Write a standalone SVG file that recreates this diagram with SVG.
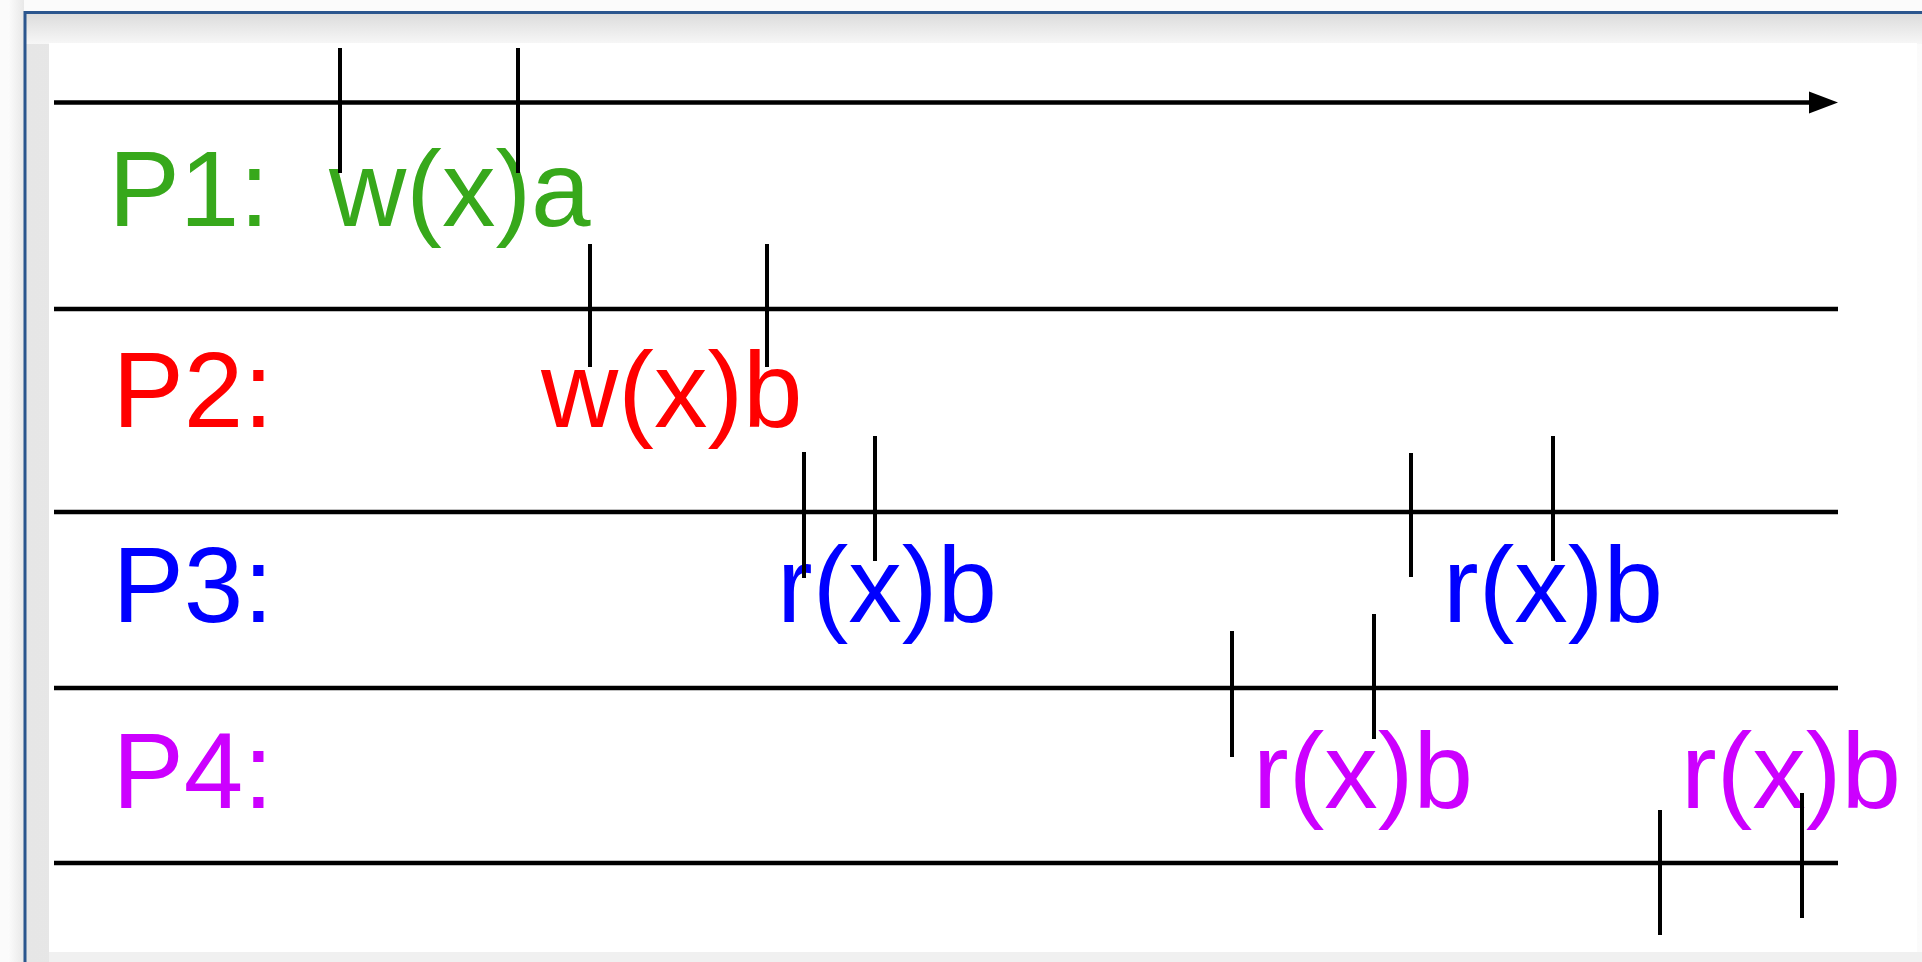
<svg xmlns="http://www.w3.org/2000/svg" width="1922" height="962" viewBox="0 0 1922 962">
  <defs>
    <linearGradient id="band" x1="0" y1="0" x2="0" y2="1">
      <stop offset="0" stop-color="#dcdcdc"/>
      <stop offset="1" stop-color="#f7f7f7"/>
    </linearGradient>
    <linearGradient id="sideband" x1="0" y1="0" x2="1" y2="0">
      <stop offset="0" stop-color="#e6e6e6"/>
      <stop offset="1" stop-color="#fbfbfb"/>
    </linearGradient>
    <linearGradient id="shadow" x1="0" y1="0" x2="1" y2="0">
      <stop offset="0" stop-color="#fcfcfc"/>
      <stop offset="1" stop-color="#e8e8e8"/>
    </linearGradient>
    <style>
      .lbl { font-family: "Liberation Sans", Arial, sans-serif; font-size: 107px; }
      .g { fill: #37a81b; }
      .r { fill: #ff0000; }
      .b { fill: #0000ff; }
      .p { fill: #cc00ff; }
      .axis { stroke: #000; stroke-width: 4.5; fill: none; }
      .tick { stroke: #000; stroke-width: 4; fill: none; }
    </style>
  </defs>
  <!-- window frame -->
  <g id="frame">
    <rect x="0" y="0" width="1922" height="962" fill="#fbfbfb"/>
    <rect x="8" y="0" width="16" height="962" fill="url(#shadow)"/>
    <rect x="26" y="14" width="1900" height="952" fill="url(#sideband)"/>
    <rect x="26" y="14" width="1900" height="30" fill="url(#band)"/>
    <rect x="49" y="952" width="1873" height="10" fill="#f0f0f0"/>
    <line x1="24" y1="12.5" x2="1922" y2="12.5" stroke="#2b568e" stroke-width="3"/>
    <line x1="25" y1="11" x2="25" y2="962" stroke="#2b568e" stroke-width="3"/>
    <rect x="49" y="43" width="1868" height="909" fill="#ffffff"/>
  </g>
  <!-- labels -->
  <g id="P1">
    <text class="lbl g" x="108.5" y="226">P1:</text>
    <text class="lbl g" x="329" y="226">w(x)a</text>
  </g>
  <g id="P2">
    <text class="lbl r" x="112.5" y="427">P2:</text>
    <text class="lbl r" x="541" y="427">w(x)b</text>
  </g>
  <g id="P3">
    <text class="lbl b" x="112.5" y="622">P3:</text>
    <text class="lbl b" x="777" y="622">r(x)b</text>
    <text class="lbl b" x="1443" y="622">r(x)b</text>
  </g>
  <g id="P4">
    <text class="lbl p" x="112.5" y="808">P4:</text>
    <text class="lbl p" x="1253" y="808">r(x)b</text>
    <text class="lbl p" x="1681" y="808">r(x)b</text>
  </g>
  <!-- timelines and ticks -->
  <g id="connectors">
    <line class="axis" x1="54" y1="102.5" x2="1812" y2="102.5"/>
    <polygon points="1809,91.5 1838,102.5 1809,113.5" fill="#000"/>
    <line class="axis" x1="54" y1="309" x2="1838" y2="309"/>
    <line class="axis" x1="54" y1="512" x2="1838" y2="512"/>
    <line class="axis" x1="54" y1="688" x2="1838" y2="688"/>
    <line class="axis" x1="54" y1="863" x2="1838" y2="863"/>

    <line class="tick" x1="340" y1="48" x2="340" y2="173"/>
    <line class="tick" x1="518" y1="48" x2="518" y2="173"/>
    <line class="tick" x1="590" y1="244" x2="590" y2="367"/>
    <line class="tick" x1="767" y1="244" x2="767" y2="367"/>
    <line class="tick" x1="804" y1="452" x2="804" y2="578"/>
    <line class="tick" x1="875" y1="436" x2="875" y2="561"/>
    <line class="tick" x1="1411" y1="453" x2="1411" y2="577"/>
    <line class="tick" x1="1553" y1="436" x2="1553" y2="561"/>
    <line class="tick" x1="1232" y1="631" x2="1232" y2="757"/>
    <line class="tick" x1="1374" y1="614" x2="1374" y2="739"/>
    <line class="tick" x1="1660" y1="810" x2="1660" y2="935"/>
    <line class="tick" x1="1802" y1="793" x2="1802" y2="918"/>
  </g>
</svg>
